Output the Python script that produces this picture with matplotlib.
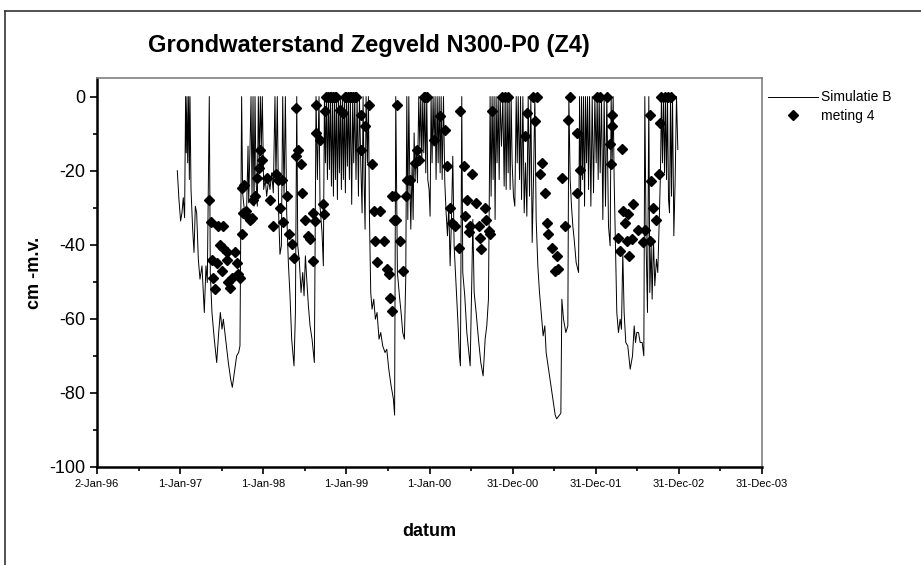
import numpy as np
import pandas as pd
import matplotlib
matplotlib.use('Agg')
import matplotlib.pyplot as plt
from matplotlib.ticker import FixedLocator, MultipleLocator
from matplotlib.lines import Line2D

# THE DATA *****************************************************************

# Simulated groundwater level (Simulatie B), time in years since 2-Jan-96 scale
sim_year = [
    1996.966, 1996.986, 1997.006, 1997.022, 1997.038, 1997.054, 1997.066, 1997.074, 1997.083, 1997.091,
    1997.103, 1997.111, 1997.119, 1997.131, 1997.151, 1997.167, 1997.183, 1997.199, 1997.219, 1997.239,
    1997.263, 1997.291, 1997.311, 1997.327, 1997.351, 1997.363, 1997.383, 1997.411, 1997.440, 1997.464,
    1997.484, 1997.504, 1997.520, 1997.548, 1997.580, 1997.608, 1997.628, 1997.652, 1997.680, 1997.704,
    1997.720, 1997.740, 1997.752, 1997.776, 1997.801, 1997.817, 1997.825, 1997.841, 1997.853, 1997.865,
    1997.877, 1997.889, 1997.901, 1997.913, 1997.929, 1997.941, 1997.953, 1997.965, 1997.977, 1997.989,
    1998.005, 1998.025, 1998.041, 1998.065, 1998.081, 1998.101, 1998.121, 1998.141, 1998.153, 1998.169,
    1998.185, 1998.201, 1998.218, 1998.234, 1998.250, 1998.266, 1998.282, 1998.302, 1998.322, 1998.342,
    1998.370, 1998.387, 1998.403, 1998.415, 1998.435, 1998.455, 1998.475, 1998.491, 1998.507, 1998.523,
    1998.543, 1998.563, 1998.587, 1998.615, 1998.635, 1998.651, 1998.671, 1998.683, 1998.707, 1998.723,
    1998.736, 1998.748, 1998.760, 1998.772, 1998.784, 1998.796, 1998.808, 1998.820, 1998.832, 1998.844,
    1998.856, 1998.868, 1998.880, 1998.892, 1998.904, 1998.916, 1998.928, 1998.940, 1998.952, 1998.964,
    1998.976, 1998.988, 1999.000, 1999.012, 1999.024, 1999.036, 1999.048, 1999.064, 1999.076, 1999.088,
    1999.100, 1999.116, 1999.129, 1999.145, 1999.157, 1999.173, 1999.189, 1999.201, 1999.213, 1999.225,
    1999.237, 1999.253, 1999.265, 1999.277, 1999.293, 1999.309, 1999.329, 1999.349, 1999.369, 1999.393,
    1999.413, 1999.437, 1999.465, 1999.486, 1999.510, 1999.538, 1999.566, 1999.580, 1999.594, 1999.614,
    1999.638, 1999.658, 1999.678, 1999.698, 1999.714, 1999.727, 1999.739, 1999.751, 1999.763, 1999.775,
    1999.791, 1999.803, 1999.815, 1999.827, 1999.839, 1999.855, 1999.871, 1999.883, 1999.895, 1999.907,
    1999.919, 1999.931, 1999.943, 1999.955, 1999.967, 1999.979, 1999.995, 2000.007, 2000.019, 2000.031,
    2000.043, 2000.055, 2000.067, 2000.079, 2000.092, 2000.104, 2000.116, 2000.128, 2000.140, 2000.152,
    2000.168, 2000.184, 2000.200, 2000.216, 2000.232, 2000.248, 2000.264, 2000.280, 2000.296, 2000.316,
    2000.340, 2000.360, 2000.372, 2000.388, 2000.400, 2000.424, 2000.449, 2000.473, 2000.489, 2000.509,
    2000.521, 2000.537, 2000.561, 2000.589, 2000.617, 2000.645, 2000.669, 2000.689, 2000.709, 2000.729,
    2000.741, 2000.753, 2000.765, 2000.777, 2000.789, 2000.801, 2000.813, 2000.826, 2000.838, 2000.850,
    2000.866, 2000.882, 2000.898, 2000.910, 2000.922, 2000.934, 2000.946, 2000.958, 2000.970, 2000.982,
    2000.994, 2001.010, 2001.026, 2001.043, 2001.055, 2001.067, 2001.083, 2001.095, 2001.107, 2001.123,
    2001.139, 2001.155, 2001.171, 2001.187, 2001.203, 2001.219, 2001.235, 2001.251, 2001.267, 2001.283,
    2001.303, 2001.323, 2001.347, 2001.367, 2001.387, 2001.403, 2001.432, 2001.460, 2001.484, 2001.512,
    2001.530, 2001.580, 2001.592, 2001.612, 2001.640, 2001.664, 2001.676, 2001.692, 2001.708, 2001.724,
    2001.740, 2001.764, 2001.793, 2001.805, 2001.817, 2001.829, 2001.841, 2001.853, 2001.865, 2001.877,
    2001.889, 2001.901, 2001.913, 2001.925, 2001.941, 2001.957, 2001.973, 2001.989, 2002.005, 2002.017,
    2002.029, 2002.041, 2002.053, 2002.069, 2002.085, 2002.101, 2002.117, 2002.133, 2002.153, 2002.173,
    2002.185, 2002.197, 2002.209, 2002.221, 2002.237, 2002.253, 2002.273, 2002.293, 2002.309, 2002.325,
    2002.341, 2002.361, 2002.385, 2002.414, 2002.442, 2002.462, 2002.478, 2002.494, 2002.514, 2002.534,
    2002.558, 2002.578, 2002.590, 2002.606, 2002.622, 2002.638, 2002.650, 2002.666, 2002.678, 2002.694,
    2002.710, 2002.730, 2002.746, 2002.766, 2002.778, 2002.790, 2002.802, 2002.815, 2002.827, 2002.839,
    2002.851, 2002.863, 2002.875, 2002.887, 2002.899, 2002.911, 2002.923, 2002.939, 2002.955, 2002.971,
    2002.987,
]
sim_level = [
    -20.0, -27.8, -33.6, -31.4, -27.3, -32.7, 0, -15.2, 0, -17.9,
    0, -22.4, 0, -25.1, -35.8, -42.1, -29.6, -31.4, -43.9, -49.3,
    -45.7, -58.3, -45.7, -50.2, 0, -47.5, -58.3, -65.5, -71.8, -63.7,
    -58.3, -62.8, -60.1, -65.5, -71.8, -76.3, -78.5, -74.5, -70.0, -69.1,
    -67.3, 0, -26.0, -31.4, -29.6, -13.4, -28.7, -13.4, 0, -26.9,
    0, -29.6, 0, -22.4, -29.6, 0, -17.9, 0, -13.4, 0,
    -25.1, -22.4, -26.9, -22.4, -25.1, -20.6, -26.0, 0, -22.4, 0,
    -31.4, -42.6, -40.3, 0, -26.9, 0, -31.4, -44.8, -53.8, -65.5,
    -72.7, -58.3, 0, -40.3, -44.8, -52.9, -47.5, -53.8, -43.0, -49.3,
    -56.5, -61.9, -65.5, -71.8, 0, -22.4, 0, -29.6, -36.7, -45.7,
    0, -17.9, 0, -22.4, 0, -19.7, 0, -24.2, 0, -26.9,
    0, -22.4, 0, -27.8, 0, -20.6, 0, -25.1, 0, -22.4,
    0, -26.0, 0, -18.8, 0, -22.4, 0, -29.1, 0, -17.9,
    0, -22.4, 0, -26.9, 0, -17.9, -31.4, 0, -22.4, -35.8,
    0, -17.9, 0, -31.4, -52.9, -57.4, -54.7, -60.1, -58.3, -65.5,
    -63.7, -67.3, -69.1, -68.2, -73.6, -78.1, -81.7, -86.0, 0, -47.5,
    -53.8, -58.3, -63.7, -65.5, -49.3, 0, -33.2, 0, -22.4, -35.8,
    -17.9, -33.2, -9.8, -22.4, -13.4, -23.3, 0, -13.4, 0, -17.9,
    0, -15.2, 0, -20.6, 0, -22.4, -25.1, -32.3, 0, -17.9,
    0, -13.4, 0, -22.4, 0, -17.9, 0, -20.6, 0, -22.4,
    0, -23.3, -31.4, -37.6, -29.6, -45.7, -33.2, -16.1, -40.3, -49.3,
    -60.1, -70.0, -72.7, 0, -47.5, -53.8, -63.7, -69.1, -72.7, -49.3,
    -33.2, -52.9, -58.3, -65.5, -71.8, -75.4, -65.5, -61.9, -54.7, 0,
    -26.9, 0, -22.4, 0, -33.2, 0, -17.9, 0, -22.4, 0,
    -13.4, 0, -24.2, 0, -25.1, 0, -20.6, 0, -25.1, 0,
    -17.9, -26.9, -29.6, 0, -17.9, 0, -22.4, 0, -27.8, 0,
    -31.4, -17.9, -32.3, 0, -26.9, 0, -39.4, -22.4, 0, -33.2,
    -45.7, -52.9, -59.2, -64.6, -61.9, -69.1, -73.6, -78.1, -81.7, -86.0,
    -87.0, -85.5, -54.7, -60.1, -63.7, -61.9, 0, -22.4, -29.6, -34.9,
    -38.5, -44.8, -47.5, 0, -26.9, 0, -22.4, 0, -29.6, 0,
    -17.9, 0, -25.1, 0, -29.6, 0, -26.0, 0, -17.9, 0,
    -22.4, 0, -20.6, 0, -33.2, 0, -29.6, 0, -34.9, -40.3,
    0, -17.9, 0, -22.4, -40.3, -58.3, -63.7, -60.1, -62.8, -42.1,
    -58.3, -66.4, -67.3, -73.6, -70.0, -61.9, -66.4, -63.7, -63.7, -66.4,
    -66.4, -70.0, 0, -40.3, -58.3, 0, -52.9, -40.3, -54.7, -38.5,
    -51.1, -43.9, -47.5, -31.4, -20.6, 0, -17.9, 0, -20.6, 0,
    -22.4, 0, -27.8, -31.4, 0, -26.9, 0, -37.6, -22.4, 0,
    -14.3,
]

# Measured groundwater level (meting 4)
meas_year = [
    1997.35, 1997.37, 1997.46, 1997.52, 1997.48, 1997.52, 1997.57, 1997.66, 1997.38, 1997.44,
    1997.56, 1997.68, 1997.50, 1997.40, 1997.70, 1997.72, 1997.58, 1997.42, 1997.60, 1997.62,
    1997.74, 1997.77, 1997.76, 1997.80, 1997.84, 1997.74, 1997.79, 1997.86, 1997.88, 1997.90,
    1997.96, 1997.98, 1997.95, 1997.92, 1998.04, 1998.08, 1998.15, 1998.18, 1998.20, 1998.12,
    1998.22, 1998.24, 1998.28, 1998.31, 1998.34, 1998.37, 1998.39, 1998.42, 1998.40, 1998.46,
    1998.47, 1998.50, 1998.54, 1998.56, 1998.60, 1998.62, 1998.72, 1998.73, 1998.60, 1998.64,
    1998.64, 1998.68, 1998.76, 1998.78, 1998.80, 1998.82, 1998.84, 1998.86, 1998.88, 1998.98,
    1999.00, 1999.02, 1999.04, 1999.06, 1999.08, 1999.10, 1999.12, 1998.74, 1998.92, 1998.96,
    1999.18, 1999.23, 1999.27, 1999.18, 1999.31, 1999.33, 1999.41, 1999.35, 1999.45, 1999.37,
    1999.49, 1999.51, 1999.55, 1999.57, 1999.53, 1999.55, 1999.61, 1999.59, 1999.60, 1999.65,
    1999.68, 1999.73, 1999.72, 1999.76, 1999.83, 1999.87, 1999.85, 1999.93, 1999.95, 1999.97,
    2000.05, 2000.13, 2000.19, 2000.21, 2000.25, 2000.27, 2000.31, 2000.35, 2000.37, 2000.41,
    2000.51, 2000.45, 2000.56, 2000.67, 2000.43, 2000.49, 2000.59, 2000.68, 2000.47, 2000.71,
    2000.73, 2000.61, 2000.62, 2000.75, 2000.87, 2000.91, 2000.95, 2001.25, 2001.29, 2001.17,
    2001.15, 2001.27, 2001.35, 2001.33, 2001.59, 2001.39, 2001.41, 2001.63, 2001.43, 2001.47,
    2001.53, 2001.54, 2001.51, 2001.69, 2001.67, 2001.77, 2001.81, 2001.78, 2002.01, 2002.05,
    2002.13, 2002.19, 2002.19, 2002.17, 2002.18, 2002.31, 2002.45, 2002.33, 2002.39, 2002.35,
    2002.27, 2002.37, 2002.43, 2002.51, 2002.57, 2002.29, 2002.40, 2002.65, 2002.59, 2002.69,
    2002.73, 2002.67, 2002.76, 2002.65, 2002.77, 2002.79, 2002.83, 2002.87, 2002.91,
]
meas_level = [
    -28.0, -34.0, -35.0, -35.0, -40.0, -41.0, -42.0, -42.0, -44.0, -45.0,
    -44.0, -45.0, -47.0, -49.0, -48.0, -49.0, -50.0, -52.0, -51.6, -49.0,
    -24.6, -24.0, -31.4, -32.3, -33.2, -37.2, -30.9, -32.7, -27.8, -26.9,
    -14.3, -17.0, -19.2, -21.9, -21.9, -27.8, -21.0, -22.4, -30.0, -35.0,
    -22.4, -34.0, -26.9, -37.2, -39.9, -43.5, -3.1, -14.3, -16.1, -18.3,
    -26.0, -33.2, -37.6, -38.5, -31.4, -33.5, -29.1, -31.8, -44.4, -2.2,
    -9.8, -11.6, 0, 0, 0, 0, 0, 0, 0, 0,
    0, 0, 0, 0, 0, 0, 0, -4.0, -3.6, -4.4,
    -4.9, -8.0, -2.2, -14.3, -18.3, -30.9, -30.9, -39.0, -39.0, -44.8,
    -46.6, -48.0, -26.9, -33.2, -54.3, -57.9, -2.2, -26.9, -33.2, -39.0,
    -47.1, -22.4, -26.9, -22.4, -17.9, -17.0, -14.3, 0, 0, 0,
    -11.6, -5.3, -8.9, -18.8, -30.0, -34.1, -35.0, -40.8, -4.0, -18.8,
    -21.0, -27.8, -28.8, -30.0, -32.3, -35.0, -35.0, -33.2, -36.7, -36.3,
    -37.2, -38.1, -41.2, -4.0, 0, 0, 0, 0, 0, -4.4,
    -10.7, -6.6, -17.9, -21.0, -22.0, -26.0, -34.1, -35.0, -37.2, -40.8,
    -43.0, -46.6, -47.0, 0, -6.2, -9.8, -19.7, -26.0, 0, 0,
    0, -4.9, -8.0, -12.9, -18.3, -14.1, -29.1, -30.9, -31.8, -34.1,
    -38.1, -39.0, -38.5, -35.9, -39.4, -41.7, -43.0, -39.0, -35.9, -30.0,
    -33.2, -22.8, -21.0, -4.9, -7.1, 0, 0, 0, 0,
]

tick_dates = ['1996-01-02', '1997-01-01', '1998-01-01', '1999-01-01', '2000-01-01',
              '2000-12-31', '2001-12-31', '2002-12-31', '2003-12-31']
tick_labels = ['2-Jan-96', '1-Jan-97', '1-Jan-98', '1-Jan-99', '1-Jan-00',
               '31-Dec-00', '31-Dec-01', '31-Dec-02', '31-Dec-03']

start = pd.Timestamp('1996-01-02')


def to_date(t):
    # one "year" on this axis is 365 days, counted from 2-Jan-96
    return start + pd.to_timedelta((np.asarray(t) - 1996.0) * 365, unit='D')


# THE CHART ****************************************************************

plt.rcParams['font.family'] = ['Liberation Sans', 'DejaVu Sans']
plt.rcParams['axes.unicode_minus'] = False

fig = plt.figure(figsize=(9.21, 5.65), dpi=100, facecolor='w')
ax = fig.add_axes([0.1053, 0.1735, 0.7221, 0.6884])

ax.plot(to_date(sim_year), sim_level, color='k', linewidth=0.7, label='Simulatie B', zorder=2)
ax.plot(to_date(meas_year), meas_level, linestyle='none', marker='D', markersize=5.2,
        color='k', label='meting 4', zorder=3)

# x-axis: ticks every 365 days, minor ticks halfway
tick_pos = pd.to_datetime(tick_dates)
ax.set_xlim(tick_pos[0], tick_pos[-1])
ax.xaxis.set_major_locator(FixedLocator(matplotlib.dates.date2num(tick_pos)))
mid = tick_pos[:-1] + (tick_pos[1:] - tick_pos[:-1]) / 2
ax.xaxis.set_minor_locator(FixedLocator(matplotlib.dates.date2num(mid)))
ax.set_xticklabels(tick_labels, fontsize=8)

ax.set_ylim(-100, 5)
ax.yaxis.set_major_locator(FixedLocator([-100, -80, -60, -40, -20, 0]))
ax.yaxis.set_minor_locator(MultipleLocator(10))
for lab in ax.get_yticklabels():
    lab.set_fontsize(13)

ax.tick_params(which='major', direction='out', length=5, width=1.2, color='k')
ax.tick_params(which='minor', direction='out', length=3, width=1.2, color='k')
ax.tick_params(axis='x', pad=4)

for s in ['left', 'bottom']:
    ax.spines[s].set_linewidth(1.8)
    ax.spines[s].set_color('k')
for s in ['top', 'right']:
    ax.spines[s].set_linewidth(1.2)
    ax.spines[s].set_color('#808080')

ax.set_xlabel('datum', fontsize=13, fontweight='bold', labelpad=24)
ax.set_ylabel('cm -m.v.', fontsize=13, fontweight='bold', labelpad=4)

fig.text(0.4007, 0.920, 'Grondwaterstand Zegveld N300-P0 (Z4)', ha='center', va='center',
         fontsize=17, fontweight='bold')

ax.legend(loc='upper left', bbox_to_anchor=(0.834, 0.840), bbox_transform=fig.transFigure,
          frameon=False, fontsize=10, handlelength=3.6, handletextpad=0.2,
          labelspacing=0.3, borderpad=0, borderaxespad=0)

# chart area border (top and left visible)
fig.add_artist(Line2D([5 / 921, 1.0], [1 - 11 / 565, 1 - 11 / 565], transform=fig.transFigure,
                      color='#333333', linewidth=1.2))
fig.add_artist(Line2D([5 / 921, 5 / 921], [0, 1 - 11 / 565], transform=fig.transFigure,
                      color='#333333', linewidth=1.2))

fig.savefig('out.png', dpi=100, facecolor='w')
